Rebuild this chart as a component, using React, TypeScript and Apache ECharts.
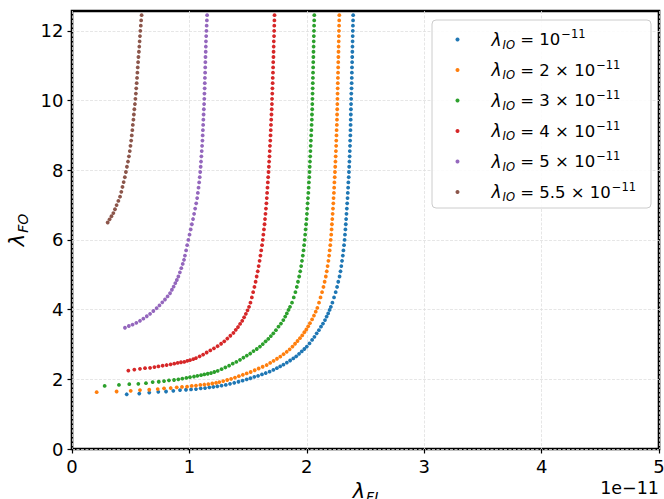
import React, { useEffect, useRef } from "react";
import * as echarts from "echarts";

// Series labels (λ_IO values) and tab10 colours
const seriesNames = ["λIO = 1e-11", "λIO = 2e-11", "λIO = 3e-11", "λIO = 4e-11", "λIO = 5e-11", "λIO = 5.5e-11"];
const ioCoefficients = ["", "2 × ", "3 × ", "4 × ", "5 × ", "5.5 × "];
const colors = ["#1f77b4", "#ff7f0e", "#2ca02c", "#d62728", "#9467bd", "#8c564b"];
const xTicks = [0, 1, 2, 3, 4, 5];
const yTicks = [0, 2, 4, 6, 8, 10, 12];
const xOffsetText = "1e\u221211";

// [λ_FI (×1e-11), λ_FO] samples for each λ_IO
const io1: number[][] = [
  [0.466, 1.57], [0.573, 1.59], [0.658, 1.62], [0.735, 1.64], [0.801, 1.65], [0.863, 1.67], [0.920, 1.69], [0.971, 1.70],
  [1.014, 1.71], [1.056, 1.72], [1.096, 1.74], [1.133, 1.75], [1.170, 1.77], [1.204, 1.78], [1.238, 1.80],
  [1.274, 1.82], [1.310, 1.84], [1.346, 1.87], [1.382, 1.90], [1.418, 1.93], [1.453, 1.96], [1.488, 2.00], [1.520, 2.03],
  [1.553, 2.07], [1.585, 2.10], [1.618, 2.14], [1.650, 2.18], [1.683, 2.22], [1.715, 2.27], [1.745, 2.32], [1.773, 2.37],
  [1.801, 2.42], [1.830, 2.48], [1.858, 2.54], [1.885, 2.60], [1.910, 2.66], [1.934, 2.73], [1.957, 2.80], [1.979, 2.87],
  [2.000, 2.94], [2.023, 3.03], [2.045, 3.13], [2.065, 3.22], [2.084, 3.32], [2.103, 3.41], [2.121, 3.51], [2.138, 3.60],
  [2.155, 3.70], [2.169, 3.80], [2.182, 3.89], [2.194, 3.99], [2.205, 4.08],
  [2.218, 4.20], [2.232, 4.35], [2.246, 4.50], [2.258, 4.65], [2.268, 4.80], [2.279, 4.95], [2.287, 5.10], [2.294, 5.25],
  [2.300, 5.40], [2.307, 5.55], [2.312, 5.70], [2.317, 5.85], [2.322, 6.00], [2.325, 6.15], [2.329, 6.30], [2.332, 6.45],
  [2.335, 6.60], [2.338, 6.75], [2.341, 6.90], [2.344, 7.05], [2.347, 7.20], [2.349, 7.35], [2.352, 7.50], [2.354, 7.65],
  [2.357, 7.80], [2.359, 7.95], [2.361, 8.10], [2.363, 8.25], [2.365, 8.40], [2.366, 8.55], [2.368, 8.70], [2.369, 8.85],
  [2.371, 9.00], [2.372, 9.15], [2.373, 9.30], [2.374, 9.45], [2.375, 9.60], [2.376, 9.75], [2.377, 9.90], [2.378, 10.05],
  [2.379, 10.20], [2.381, 10.35], [2.382, 10.50], [2.383, 10.65], [2.384, 10.80], [2.385, 10.95], [2.386, 11.10],
  [2.387, 11.25], [2.388, 11.40], [2.389, 11.55], [2.390, 11.70], [2.391, 11.85], [2.392, 12.00], [2.393, 12.15],
  [2.394, 12.30], [2.395, 12.45], [2.396, 12.60],
];

const io2: number[][] = [
  [0.210, 1.63], [0.380, 1.65], [0.500, 1.67], [0.579, 1.69], [0.658, 1.70], [0.730, 1.72], [0.784, 1.74], [0.841, 1.75],
  [0.892, 1.77], [0.937, 1.78], [0.980, 1.79], [1.020, 1.81], [1.056, 1.82], [1.093, 1.84], [1.127, 1.85], [1.161, 1.86],
  [1.195, 1.88], [1.227, 1.90], [1.255, 1.92],
  [1.288, 1.95], [1.322, 1.98], [1.355, 2.01], [1.388, 2.05], [1.421, 2.09], [1.455, 2.13], [1.488, 2.17], [1.522, 2.21],
  [1.556, 2.26], [1.590, 2.31], [1.624, 2.36], [1.658, 2.41], [1.688, 2.47], [1.717, 2.53], [1.746, 2.59], [1.774, 2.65],
  [1.802, 2.72], [1.829, 2.79], [1.854, 2.86], [1.878, 2.94], [1.900, 3.02], [1.921, 3.10], [1.942, 3.18], [1.961, 3.26],
  [1.979, 3.35], [1.996, 3.43], [2.012, 3.52], [2.027, 3.61], [2.045, 3.72], [2.061, 3.83], [2.076, 3.94], [2.090, 4.05],
  [2.104, 4.20], [2.117, 4.35], [2.130, 4.50], [2.142, 4.65], [2.152, 4.80], [2.162, 4.95], [2.170, 5.10], [2.177, 5.25],
  [2.184, 5.40], [2.190, 5.55], [2.195, 5.70], [2.200, 5.85], [2.204, 6.00], [2.208, 6.15], [2.211, 6.30], [2.214, 6.45],
  [2.217, 6.60], [2.220, 6.75], [2.223, 6.90], [2.226, 7.05], [2.228, 7.20], [2.231, 7.35], [2.233, 7.50], [2.235, 7.65],
  [2.238, 7.80], [2.240, 7.95], [2.242, 8.10], [2.244, 8.25], [2.246, 8.40], [2.248, 8.55], [2.250, 8.70], [2.251, 8.85],
  [2.253, 9.00], [2.254, 9.15], [2.256, 9.30], [2.257, 9.45], [2.258, 9.60], [2.259, 9.75], [2.260, 9.90], [2.261, 10.05],
  [2.262, 10.20], [2.263, 10.35], [2.264, 10.50], [2.265, 10.65], [2.266, 10.80], [2.267, 10.95], [2.268, 11.10],
  [2.269, 11.25], [2.270, 11.40], [2.271, 11.55], [2.272, 11.70], [2.273, 11.85], [2.274, 12.00], [2.275, 12.15],
  [2.276, 12.30], [2.277, 12.45], [2.278, 12.60],
];

const io3: number[][] = [
  [0.278, 1.81], [0.400, 1.84], [0.488, 1.86], [0.565, 1.87], [0.630, 1.89], [0.687, 1.92], [0.739, 1.93], [0.784, 1.95],
  [0.826, 1.97], [0.869, 1.98], [0.906, 2.00], [0.940, 2.02], [0.974, 2.04], [1.005, 2.06], [1.039, 2.08], [1.068, 2.10],
  [1.099, 2.12], [1.127, 2.14], [1.156, 2.16], [1.184, 2.18], [1.212, 2.21], [1.241, 2.24],
  [1.274, 2.29], [1.306, 2.34], [1.338, 2.39], [1.369, 2.45], [1.400, 2.50], [1.431, 2.56], [1.460, 2.62], [1.489, 2.68],
  [1.518, 2.74], [1.546, 2.81], [1.574, 2.87], [1.601, 2.94], [1.625, 3.01], [1.649, 3.09], [1.672, 3.16], [1.694, 3.24],
  [1.715, 3.32], [1.737, 3.41], [1.759, 3.51], [1.780, 3.60], [1.800, 3.70], [1.816, 3.80], [1.830, 3.89], [1.844, 3.99],
  [1.857, 4.08],
  [1.874, 4.20], [1.889, 4.35], [1.903, 4.50], [1.915, 4.65], [1.925, 4.80], [1.935, 4.95], [1.944, 5.10], [1.952, 5.25],
  [1.959, 5.40], [1.966, 5.55], [1.972, 5.70], [1.977, 5.85], [1.982, 6.00], [1.986, 6.15], [1.990, 6.30], [1.994, 6.45],
  [1.998, 6.60], [2.001, 6.75], [2.004, 6.90], [2.007, 7.05], [2.010, 7.20], [2.013, 7.35], [2.016, 7.50], [2.018, 7.65],
  [2.021, 7.80], [2.023, 7.95], [2.025, 8.10], [2.027, 8.25], [2.029, 8.40], [2.031, 8.55], [2.033, 8.70], [2.035, 8.85],
  [2.037, 9.00], [2.039, 9.15], [2.041, 9.30], [2.043, 9.45], [2.044, 9.60], [2.046, 9.75], [2.047, 9.90], [2.048, 10.05],
  [2.049, 10.20], [2.050, 10.35], [2.051, 10.50], [2.052, 10.65], [2.053, 10.80], [2.054, 10.95], [2.055, 11.10],
  [2.056, 11.25], [2.057, 11.40], [2.058, 11.55], [2.059, 11.70], [2.060, 11.85], [2.061, 12.00], [2.062, 12.15],
  [2.063, 12.30], [2.064, 12.45], [2.065, 12.60],
];

const io4: number[][] = [
  [0.480, 2.25], [0.531, 2.28], [0.579, 2.30], [0.622, 2.32], [0.665, 2.33], [0.702, 2.35], [0.736, 2.37], [0.772, 2.39],
  [0.806, 2.41], [0.840, 2.43], [0.871, 2.45], [0.900, 2.47], [0.928, 2.49], [0.956, 2.50], [0.982, 2.53], [1.005, 2.55],
  [1.033, 2.58], [1.056, 2.61],
  [1.087, 2.66], [1.117, 2.71], [1.147, 2.77], [1.178, 2.83], [1.209, 2.89], [1.240, 2.95], [1.270, 3.02], [1.297, 3.09],
  [1.323, 3.17], [1.349, 3.25], [1.375, 3.33], [1.395, 3.42], [1.414, 3.50], [1.432, 3.59], [1.450, 3.68], [1.466, 3.78],
  [1.481, 3.88], [1.495, 3.98], [1.508, 4.08],
  [1.520, 4.20], [1.532, 4.35], [1.543, 4.50], [1.554, 4.65], [1.564, 4.80], [1.573, 4.95], [1.582, 5.10], [1.590, 5.25],
  [1.598, 5.40], [1.605, 5.55], [1.612, 5.70], [1.619, 5.85], [1.625, 6.00], [1.630, 6.15], [1.635, 6.30], [1.640, 6.45],
  [1.644, 6.60], [1.648, 6.75], [1.652, 6.90], [1.656, 7.05], [1.659, 7.20], [1.662, 7.35], [1.665, 7.50], [1.668, 7.65],
  [1.671, 7.80], [1.674, 7.95], [1.677, 8.10], [1.679, 8.25], [1.682, 8.40], [1.684, 8.55], [1.686, 8.70], [1.689, 8.85],
  [1.691, 9.00], [1.693, 9.15], [1.695, 9.30], [1.697, 9.45], [1.699, 9.60], [1.701, 9.75], [1.703, 9.90], [1.704, 10.05],
  [1.706, 10.20], [1.707, 10.35], [1.709, 10.50], [1.710, 10.65], [1.712, 10.80], [1.713, 10.95], [1.714, 11.10],
  [1.716, 11.25], [1.717, 11.40], [1.718, 11.55], [1.719, 11.70], [1.721, 11.85], [1.722, 12.00], [1.723, 12.15],
  [1.724, 12.30], [1.725, 12.45], [1.726, 12.60],
];

const io5: number[][] = [
  [0.451, 3.48], [0.484, 3.53], [0.516, 3.57], [0.548, 3.62], [0.579, 3.68], [0.608, 3.74], [0.637, 3.81], [0.665, 3.88],
  [0.693, 3.96], [0.721, 4.04], [0.745, 4.12], [0.769, 4.21], [0.792, 4.29], [0.814, 4.38], [0.835, 4.47], [0.851, 4.57],
  [0.866, 4.66], [0.880, 4.76], [0.893, 4.85], [0.906, 4.95], [0.919, 5.07], [0.931, 5.19], [0.943, 5.31], [0.954, 5.43],
  [0.962, 5.55], [0.972, 5.70], [0.981, 5.85], [0.991, 6.00], [1.001, 6.15], [1.011, 6.30], [1.021, 6.45], [1.031, 6.60],
  [1.040, 6.75], [1.049, 6.90], [1.058, 7.05], [1.066, 7.20], [1.072, 7.35], [1.078, 7.50], [1.083, 7.65], [1.088, 7.80],
  [1.092, 7.95], [1.096, 8.10], [1.099, 8.25], [1.102, 8.40], [1.105, 8.55], [1.108, 8.70], [1.111, 8.85], [1.113, 9.00],
  [1.115, 9.15], [1.117, 9.30], [1.119, 9.45], [1.121, 9.60], [1.123, 9.75], [1.125, 9.90], [1.127, 10.05], [1.128, 10.20],
  [1.130, 10.35], [1.131, 10.50], [1.132, 10.65], [1.134, 10.80], [1.135, 10.95], [1.136, 11.10], [1.137, 11.25],
  [1.139, 11.40], [1.140, 11.55], [1.141, 11.70], [1.143, 11.85], [1.145, 12.00], [1.147, 12.15], [1.149, 12.30],
  [1.151, 12.45], [1.153, 12.60],
];

const io55: number[][] = [
  [0.304, 6.50], [0.320, 6.59], [0.336, 6.68], [0.352, 6.77], [0.366, 6.88], [0.380, 7.00], [0.395, 7.12], [0.409, 7.24],
  [0.420, 7.38], [0.430, 7.52], [0.440, 7.66], [0.450, 7.80], [0.459, 7.95], [0.468, 8.10], [0.477, 8.25], [0.485, 8.40],
  [0.492, 8.55], [0.498, 8.70], [0.504, 8.85], [0.509, 9.00], [0.514, 9.15], [0.518, 9.30], [0.523, 9.45], [0.527, 9.60],
  [0.531, 9.75], [0.536, 9.90], [0.540, 10.05], [0.544, 10.20], [0.547, 10.35], [0.551, 10.50], [0.554, 10.65],
  [0.557, 10.80], [0.560, 10.95], [0.563, 11.10], [0.566, 11.25], [0.570, 11.40], [0.573, 11.55], [0.576, 11.70],
  [0.579, 11.85], [0.582, 12.00], [0.586, 12.15], [0.589, 12.30], [0.593, 12.45], [0.596, 12.60],
];

const seriesData = [io1, io2, io3, io4, io5, io55];

const FONT = "DejaVu Sans";

export default function App() {
  const ref = useRef<HTMLDivElement>(null);

  useEffect(() => {
    const chart = echarts.init(ref.current!, null, { renderer: "svg" });

    const legendLabel = (name: string) => {
      const i = seriesNames.indexOf(name);
      return `{lam|λ}{sub|IO}{txt| = ${ioCoefficients[i]}10}{sup|\u221211}`;
    };

    const nameRich = {
      lam: { fontSize: 21, fontStyle: "italic", fontFamily: FONT, color: "#000" },
      sub: { fontSize: 14, fontStyle: "italic", fontFamily: FONT, color: "#000", padding: [12, 0, 0, 1] },
    };

    chart.setOption({
      animation: false,
      backgroundColor: "#ffffff",
      textStyle: { fontFamily: FONT, color: "#000" },
      grid: {
        left: 72,
        right: 5,
        top: 11,
        bottom: 50,
        outerBoundsMode: "none",
        containLabel: false,
        show: true,
        borderColor: "#000",
        borderWidth: 2.6,
        backgroundColor: "transparent",
      },
      xAxis: {
        type: "value",
        min: 0,
        max: 5,
        interval: 1,
        name: "{lam|λ}{sub|FI}",
        nameLocation: "middle",
        nameGap: 28,
        nameTextStyle: { color: "#000", fontFamily: FONT, rich: nameRich },
        axisLine: { show: false },
        axisTick: { show: true, inside: false, length: 4.5, lineStyle: { color: "#000", width: 1.2 } },
        axisLabel: {
          customValues: xTicks,
          margin: 8.5,
          fontSize: 18,
          fontFamily: FONT,
          color: "#000",
          showMaxLabel: true,
        },
        splitLine: { show: true, lineStyle: { color: "#e0e0e0", width: 0.8, type: [3, 1.5] } },
      },
      yAxis: {
        type: "value",
        min: 0,
        max: 12.57,
        interval: 2,
        name: "{lam|λ}{sub|FO}",
        nameLocation: "middle",
        nameRotate: 90,
        nameGap: 35,
        nameTextStyle: { color: "#000", fontFamily: FONT, rich: nameRich },
        axisLine: { show: false },
        axisTick: { show: true, inside: false, length: 4.5, customValues: yTicks, lineStyle: { color: "#000", width: 1.2 } },
        axisLabel: {
          customValues: yTicks,
          margin: 8.5,
          fontSize: 18,
          fontFamily: FONT,
          color: "#000",
        },
        splitLine: { show: true, lineStyle: { color: "#e0e0e0", width: 0.8, type: [3, 1.5] } },
      },
      legend: {
        orient: "vertical",
        left: 455.5,
        top: 28,
        padding: 0,
        itemGap: 8,
        itemWidth: 58,
        itemHeight: 4,
        icon: "circle",
        data: seriesNames,
        formatter: legendLabel,
        textStyle: {
          color: "#000",
          fontFamily: FONT,
          fontSize: 16.5,
          rich: {
            lam: { fontSize: 17, fontStyle: "italic", fontFamily: FONT, color: "#000" },
            sub: { fontSize: 11.5, fontStyle: "italic", fontFamily: FONT, color: "#000", padding: [10, 0, 0, 1] },
            txt: { fontSize: 16.5, fontFamily: FONT, color: "#000" },
            sup: { fontSize: 11.5, fontFamily: FONT, color: "#000", padding: [0, 0, 11, 1] },
          },
        },
      },
      graphic: [
        {
          type: "rect",
          z: 3,
          shape: { x: 432, y: 20, width: 219, height: 188, r: 4 },
          style: { fill: "rgba(255,255,255,0.85)", stroke: "#cccccc", lineWidth: 1 },
        },
        {
          type: "text",
          z: 5,
          right: 5,
          top: 479,
          style: { text: xOffsetText, fontSize: 17.5, fontFamily: FONT, fill: "#000" },
        },
      ],
      series: seriesData.map((d, i) => ({
        type: "scatter",
        name: seriesNames[i],
        data: d,
        symbol: "circle",
        symbolSize: 3.8,
        itemStyle: { color: colors[i], opacity: 1 },
        emphasis: { disabled: true },
        z: 2,
      })),
    });

    return () => chart.dispose();
  }, []);

  return <div ref={ref} style={{ position: "fixed", left: 0, top: 0, width: 664, height: 499 }} />;
}
